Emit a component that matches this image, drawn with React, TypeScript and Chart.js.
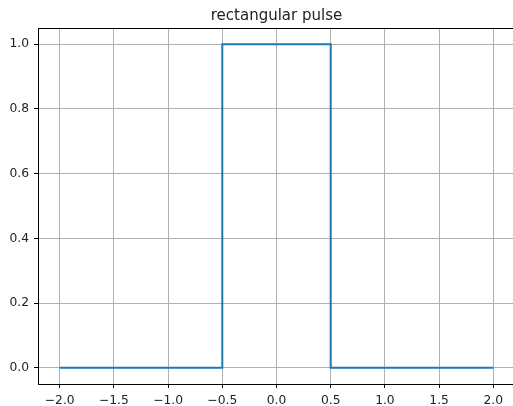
import React, { useEffect, useRef } from "react";
import { Chart, registerables } from "chart.js";

Chart.register(...registerables);

const xValues = [-2, -0.5, -0.5, 0.5, 0.5, 2];
const yValues = [0, 0, 1, 1, 0, 0];
const xTicks = [-2, -1.5, -1, -0.5, 0, 0.5, 1, 1.5, 2];
const yTicks = [0, 0.2, 0.4, 0.6, 0.8, 1.0];
const titleText = "rectangular pulse";

const FONT = "'DejaVu Sans', sans-serif";

const fmt = (v: number) => {
  const s = Math.abs(v).toFixed(1);
  return v < 0 ? "\u2212" + s : s;
};

export default function App() {
  const ref = useRef<HTMLCanvasElement | null>(null);
  useEffect(() => {
    if (!ref.current) return;
    const framePlugin = {
      id: "frame",
      afterDraw(chart: any) {
        const { ctx, chartArea } = chart;
        ctx.save();
        ctx.strokeStyle = "#000";
        ctx.lineWidth = 1;
        ctx.beginPath();
        ctx.moveTo(chartArea.left, Math.round(chartArea.top) + 0.5);
        ctx.lineTo(chartArea.right, Math.round(chartArea.top) + 0.5);
        ctx.moveTo(Math.round(chartArea.right) + 0.5, chartArea.top);
        ctx.lineTo(Math.round(chartArea.right) + 0.5, chartArea.bottom);
        ctx.stroke();
        ctx.fillStyle = "#222";
        ctx.font = `15px ${FONT}`;
        ctx.textAlign = "center";
        ctx.textBaseline = "alphabetic";
        ctx.fillText(titleText, (chartArea.left + chartArea.right) / 2, 20);
        ctx.restore();
      },
    };
    const chart = new Chart(ref.current, {
      type: "scatter",
      data: {
        datasets: [
          {
            data: xValues.map((x, i) => ({ x, y: yValues[i] })),
            showLine: true,
            borderColor: "#1f77b4",
            borderWidth: 2,
            pointRadius: 0,
            fill: false,
            tension: 0,
          },
        ],
      },
      options: {
        animation: false,
        responsive: false,
        layout: { padding: { top: 28, right: 5, left: 0, bottom: 0 } },
        plugins: { legend: { display: false }, title: { display: false }, tooltip: { enabled: false } },
        scales: {
          x: {
            type: "linear",
            min: -2.2,
            max: 2.2,
            afterBuildTicks: (s: any) => {
              s.ticks = xTicks.map((v) => ({ value: v }));
            },
            afterFit: (s: any) => {
              s.height = 22;
              s.paddingLeft = 0;
              s.paddingRight = 0;
            },
            grid: { color: "#b0b0b0", lineWidth: 1, tickColor: "#000", tickLength: 4 },
            border: { color: "#000", width: 1 },
            ticks: {
              color: "#222",
              padding: 5,
              maxRotation: 0,
              autoSkip: false,
              font: { family: FONT, size: 12.3 },
              callback: (v: any) => fmt(Number(v)),
            },
          },
          y: {
            type: "linear",
            min: -0.05,
            max: 1.05,
            afterBuildTicks: (s: any) => {
              s.ticks = yTicks.map((v) => ({ value: v }));
            },
            afterFit: (s: any) => {
              s.width = 38;
              s.paddingTop = 0;
              s.paddingBottom = 0;
            },
            grid: { color: "#b0b0b0", lineWidth: 1, tickColor: "#000", tickLength: 4 },
            border: { color: "#000", width: 1 },
            ticks: {
              color: "#222",
              padding: 5,
              autoSkip: false,
              font: { family: FONT, size: 12.3 },
              callback: (v: any) => fmt(Number(v)),
            },
          },
        },
      },
      plugins: [framePlugin],
    } as any);
    return () => chart.destroy();
  }, []);
  return (
    <div style={{ position: "fixed", left: 0, top: 0, width: 520, height: 406, background: "#fff" }}>
      <canvas ref={ref} width={520} height={406} />
    </div>
  );
}
